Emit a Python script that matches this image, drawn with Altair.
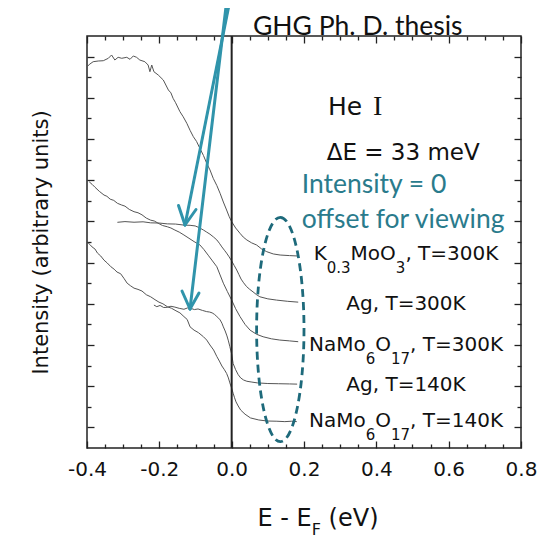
import altair as alt
import pandas as pd

# ---------------- data ----------------
k03_x = [-0.400, -0.392, -0.383, -0.369, -0.355, -0.341, -0.332, -0.323, -0.314, -0.304,
         -0.290, -0.281, -0.272, -0.263, -0.254, -0.240, -0.231, -0.226, -0.221, -0.215,
         -0.203, -0.189, -0.175, -0.168, -0.162, -0.155, -0.143, -0.134, -0.124, -0.115,
         -0.106, -0.097, -0.088, -0.078, -0.069, -0.060, -0.051, -0.041, -0.032, -0.023,
         -0.014, -0.007, 0.000, 0.011, 0.023, 0.032, 0.042, 0.055, 0.069, 0.083, 0.097,
         0.115, 0.134, 0.160, 0.184]
k03_y = [8.755, 8.820, 8.876, 8.893, 8.900, 8.959, 9.039, 8.917, 8.983, 8.959,
         8.983, 8.934, 9.015, 8.983, 8.917, 8.876, 8.796, 8.633, 8.796, 8.633,
         8.553, 8.432, 8.189, 8.120, 7.988, 7.880, 7.663, 7.540, 7.381, 7.210,
         7.056, 6.940, 6.774, 6.600, 6.410, 6.250, 6.046, 5.870, 5.682, 5.470,
         5.277, 5.120, 4.993, 4.840, 4.711, 4.620, 4.549, 4.480, 4.427, 4.330, 4.265,
         4.210, 4.184, 4.170, 4.160]

ag300_x = [-0.316, -0.295, -0.270, -0.245, -0.224, -0.200, -0.178, -0.155, -0.132, -0.115,
           -0.101, -0.090, -0.078, -0.069, -0.060, -0.050, -0.041, -0.034, -0.027, -0.020,
           -0.014, -0.007, 0.000, 0.007, 0.014, 0.020, 0.026, 0.033, 0.041, 0.050, 0.059,
           0.069, 0.078, 0.100, 0.124, 0.155, 0.184]
ag300_y = [4.978, 4.995, 4.980, 4.990, 4.965, 4.960, 4.940, 4.935, 4.910, 4.905,
           4.890, 4.850, 4.790, 4.740, 4.690, 4.620, 4.550, 4.470, 4.380, 4.300,
           4.230, 4.140, 4.040, 3.930, 3.820, 3.710, 3.600, 3.510, 3.420, 3.350, 3.290,
           3.220, 3.170, 3.120, 3.090, 3.060, 3.040]

na300_x = [-0.394, -0.386, -0.378, -0.366, -0.353, -0.345, -0.336, -0.326, -0.316, -0.305,
           -0.295, -0.283, -0.270, -0.259, -0.248, -0.236, -0.224, -0.214, -0.204, -0.191,
           -0.178, -0.168, -0.157, -0.145, -0.132, -0.118, -0.104, -0.096, -0.088, -0.077,
           -0.065, -0.053, -0.041, -0.032, -0.023, -0.012, 0.000, 0.011, 0.023, 0.037,
           0.051, 0.069, 0.087, 0.110, 0.133, 0.160, 0.184]
na300_y = [5.963, 5.900, 5.830, 5.730, 5.640, 5.610, 5.540, 5.510, 5.440, 5.400,
           5.370, 5.290, 5.235, 5.210, 5.160, 5.080, 5.030, 5.010, 4.960, 4.900,
           4.870, 4.840, 4.790, 4.740, 4.670, 4.590, 4.510, 4.470, 4.430, 4.320,
           4.180, 4.040, 3.900, 3.700, 3.500, 3.300, 3.090, 2.880, 2.690, 2.500,
           2.360, 2.260, 2.200, 2.150, 2.120, 2.100, 2.080]

ag140_x = [-0.215, -0.207, -0.198, -0.188, -0.178, -0.168, -0.157, -0.145, -0.132, -0.122,
           -0.113, -0.103, -0.093, -0.081, -0.069, -0.061, -0.054, -0.047, -0.041, -0.036,
           -0.032, -0.027, -0.023, -0.018, -0.013, -0.009, -0.005, 0.000, 0.004, 0.011,
           0.018, 0.025, 0.033, 0.042, 0.056, 0.071, 0.100, 0.130, 0.160, 0.181]
ag140_y = [2.970, 2.930, 2.960, 2.910, 2.915, 2.940, 2.920, 2.890, 2.867, 2.900,
           2.890, 2.860, 2.875, 2.840, 2.810, 2.800, 2.780, 2.740, 2.690, 2.650,
           2.610, 2.530, 2.440, 2.340, 2.220, 2.100, 1.960, 1.780, 1.550, 1.400,
           1.280, 1.200, 1.150, 1.120, 1.100, 1.080, 1.065, 1.060, 1.055, 1.050]

na140_x = [-0.397, -0.391, -0.386, -0.378, -0.371, -0.362, -0.353, -0.344, -0.334, -0.325,
           -0.317, -0.307, -0.298, -0.289, -0.280, -0.270, -0.259, -0.248, -0.236, -0.224,
           -0.212, -0.201, -0.190, -0.178, -0.166, -0.154, -0.143, -0.132, -0.123, -0.115,
           -0.104, -0.092, -0.078, -0.069, -0.060, -0.050, -0.041, -0.034, -0.027, -0.020,
           -0.014, -0.009, -0.005, 0.000, 0.004, 0.008, 0.012, 0.018, 0.025, 0.037,
           0.052, 0.075, 0.098, 0.125, 0.147, 0.165, 0.180]
na140_y = [4.480, 4.430, 4.380, 4.330, 4.230, 4.160, 4.060, 3.990, 3.900, 3.840,
           3.770, 3.730, 3.620, 3.500, 3.440, 3.380, 3.350, 3.310, 3.220, 3.170,
           3.100, 3.040, 3.000, 2.930, 2.890, 2.830, 2.780, 2.690, 2.620, 2.440,
           2.360, 2.300, 2.200, 2.120, 2.000, 1.880, 1.720, 1.610, 1.490, 1.400,
           1.310, 1.200, 1.080, 0.950, 0.830, 0.720, 0.620, 0.520, 0.420, 0.320,
           0.230, 0.180, 0.155, 0.150, 0.140, 0.150, 0.140]

x_major = [-0.4, -0.2, 0.0, 0.2, 0.4, 0.6, 0.8]
x_minor = [-0.35, -0.3, -0.25, -0.15, -0.1, -0.05, 0.05, 0.1, 0.15, 0.25, 0.3, 0.35,
           0.45, 0.5, 0.55, 0.65, 0.7, 0.75]
y_major = [0, 1, 2, 3, 4, 5, 6, 7, 8, 9]
y_minor = [0.5, 1.5, 2.5, 3.5, 4.5, 5.5, 6.5, 7.5, 8.5]

series = [
    ("K0.3MoO3 300K", k03_x, k03_y),
    ("Ag 300K", ag300_x, ag300_y),
    ("NaMo6O17 300K", na300_x, na300_y),
    ("Ag 140K", ag140_x, ag140_y),
    ("NaMo6O17 140K", na140_x, na140_y),
]
rows = []
for name, xs_, ys_ in series:
    for i, (a_, b_) in enumerate(zip(xs_, ys_)):
        rows.append({"series": name, "E": a_, "I": b_, "o": i})
df = pd.DataFrame(rows)

# ---------------- layout helpers ----------------
W, H = 434, 412
X0, X1 = -0.4, 0.8
Y0, Y1 = -0.5, 9.5
LEFT, TOP = 87, 36


def px2x(px):
    return X0 + (px - LEFT) / W * (X1 - X0)


def py2y(py):
    return Y1 - (py - TOP) / H * (Y1 - Y0)


DJV = {' ': 0.318, ',': 0.318, '.': 0.318, '=': 0.838, '-': 0.361, '(': 0.390, ')': 0.390,
       'A': 0.684, 'E': 0.632, 'F': 0.575, 'H': 0.752, 'K': 0.656, 'M': 0.863, 'N': 0.748,
       'O': 0.787, 'T': 0.611, 'V': 0.684, 'a': 0.613, 'e': 0.615, 'g': 0.635, 'm': 0.974,
       'o': 0.612, '\u0394': 0.684}
for d in '0123456789':
    DJV[d] = 0.636


def tw(s, fs):
    return sum(DJV.get(c, 0.6) for c in s) * fs


def seg_rows(parts, center_px, base_py, fs, sfs, drop):
    total = sum(tw(t, sfs if s else fs) for t, s in parts)
    cur = center_px - total / 2
    out = []
    for t, s in parts:
        f = sfs if s else fs
        lead = len(t) - len(t.lstrip(' '))
        out.append({"x": px2x(cur + tw(' ' * lead, f)),
                    "y": py2y(base_py + (drop if s else 0)),
                    "t": t.strip(' '), "fs": f})
        cur += tw(t, f)
    return out


dj_rows = []
dj_rows += seg_rows([("K", 0), ("0.3", 1), ("MoO", 0), ("3", 1), (", T=300K", 0)], 406, 260, 20, 15, 13)
dj_rows += seg_rows([("Ag, T=300K", 0)], 406, 310, 20, 15, 13)
dj_rows += seg_rows([("NaMo", 0), ("6", 1), ("O", 0), ("17", 1), (", T=300K", 0)], 406, 351, 20, 15, 13)
dj_rows += seg_rows([("Ag, T=140K", 0)], 406, 390.7, 20, 15, 13)
dj_rows += seg_rows([("NaMo", 0), ("6", 1), ("O", 0), ("17", 1), (", T=140K", 0)], 406, 426.7, 20, 15, 13)
dj_rows += seg_rows([("E - E", 0), ("F", 1), (" (eV)", 0)], 318, 526, 24, 16, 9)
dj_rows.append({"x": px2x(328), "y": py2y(115.3), "t": "He", "fs": 25})
dj_rows.append({"x": px2x(326.7), "y": py2y(160), "t": "\u0394E = 33 meV", "fs": 23})
dj_df = pd.DataFrame(dj_rows)

TEAL_TXT = "#2a7b8c"
TEAL_ARR = "#3094ab"
TEAL_ELL = "#1e6a7b"

lato_df = pd.DataFrame([
    {"x": px2x(253), "y": py2y(34.5), "t": "GHG Ph. D. thesis", "fs": 26.5, "c": "#111111"},
    {"x": px2x(301.7), "y": py2y(193.3), "t": "Intensity = 0", "fs": 26.5, "c": TEAL_TXT},
    {"x": px2x(301.7), "y": py2y(228.3), "t": "offset for viewing", "fs": 26.5, "c": TEAL_TXT},
])
serif_df = pd.DataFrame([{"x": px2x(373), "y": py2y(115.3), "t": "I"}])

arrows_df = pd.DataFrame([
    {"x": px2x(230.0), "y": py2y(0), "x2": px2x(185), "y2": py2y(225)},
    {"x": px2x(226.8), "y": py2y(0), "x2": px2x(190), "y2": py2y(309)},
    {"x": px2x(178.5), "y": py2y(205.5), "x2": px2x(185), "y2": py2y(225)},
    {"x": px2x(196.0), "y": py2y(209.5), "x2": px2x(185), "y2": py2y(225)},
    {"x": px2x(182.0), "y": py2y(291), "x2": px2x(190), "y2": py2y(309)},
    {"x": px2x(199.0), "y": py2y(293), "x2": px2x(190), "y2": py2y(309)},
])

# ellipse as a custom symbol path (unit coords, scaled by sqrt(size)/2)
a = 23.7 / 112.2
k = 0.5523
ell_path = (f"M0,-1 C{k*a:.4f},-1 {a:.4f},{-k:.4f} {a:.4f},0 "
            f"C{a:.4f},{k:.4f} {k*a:.4f},1 0,1 "
            f"C{-k*a:.4f},1 {-a:.4f},{k:.4f} {-a:.4f},0 "
            f"C{-a:.4f},{-k:.4f} {-k*a:.4f},-1 0,-1 Z")
ell_df = pd.DataFrame([{"x": px2x(280.3), "y": py2y(329.5)}])
ell_size = (2 * 112.2) ** 2

zero_df = pd.DataFrame([{"z": 0.0}])

# ---------------- scales and axes ----------------
xs = alt.Scale(domain=[X0, X1], nice=False, zero=False)
ys = alt.Scale(domain=[Y0, Y1], nice=False, zero=False)


def tick_axis(orient, values, size, offset):
    return alt.Axis(orient=orient, values=values, tickSize=size, offset=offset,
                    labels=False, domain=False, grid=False, title=None, ticks=True,
                    tickColor="#222222", tickWidth=1.3)


ax_x_lab = alt.Axis(orient="bottom", values=x_major, ticks=False, tickSize=0, domain=False,
                    grid=False, title=None,
                    labelExpr="datum.value < 0 ? '-' + format(-datum.value, '.1f') : format(datum.value, '.1f')",
                    labelFont="DejaVu Sans", labelFontSize=20, labelColor="#111111",
                    labelPadding=11, labelFlush=False, labelOverlap=False)
ax_y_tit = alt.Axis(orient="left", ticks=False, tickSize=0, labels=False, domain=False,
                    grid=False, title="Intensity (arbitrary units)", titleFont="DejaVu Sans",
                    titleFontSize=21, titleFontWeight="normal", titleColor="#111111",
                    titlePadding=36)

lines = alt.Chart(df).mark_line(color="#555555", strokeWidth=1).encode(
    x=alt.X("E:Q", scale=xs, axis=ax_x_lab),
    y=alt.Y("I:Q", scale=ys, axis=ax_y_tit),
    detail="series:N",
    order="o:Q",
)

zero = alt.Chart(zero_df).mark_rule(color="#222222", strokeWidth=2).encode(
    x=alt.X("z:Q", scale=xs, axis=None),
)

arrows = alt.Chart(arrows_df).mark_rule(color=TEAL_ARR, strokeWidth=3, strokeCap="round").encode(
    x=alt.X("x:Q", scale=xs, axis=tick_axis("top", x_major, 7, -H)),
    y=alt.Y("y:Q", scale=ys, axis=tick_axis("right", y_major, 7, -W)),
    x2="x2:Q",
    y2="y2:Q",
)

ellipse = alt.Chart(ell_df).mark_point(
    shape=ell_path, size=ell_size, filled=False, color=TEAL_ELL, strokeWidth=2.8,
    strokeDash=[8, 5], opacity=1,
).encode(
    x=alt.X("x:Q", scale=xs, axis=tick_axis("top", x_minor, 4, -H)),
    y=alt.Y("y:Q", scale=ys, axis=tick_axis("right", y_minor, 4, -W)),
)

dj_text = alt.Chart(dj_df).mark_text(font="DejaVu Sans", align="left", baseline="alphabetic",
                                     color="#111111").encode(
    x=alt.X("x:Q", scale=xs, axis=tick_axis("bottom", x_major, 7, -H)),
    y=alt.Y("y:Q", scale=ys, axis=tick_axis("left", y_major, 7, -W)),
    text="t:N",
    size=alt.Size("fs:Q", scale=None, legend=None),
)

lato_text = alt.Chart(lato_df).mark_text(font="Lato", align="left", baseline="alphabetic").encode(
    x=alt.X("x:Q", scale=xs, axis=tick_axis("bottom", x_minor, 4, -H)),
    y=alt.Y("y:Q", scale=ys, axis=tick_axis("left", y_minor, 4, -W)),
    text="t:N",
    size=alt.Size("fs:Q", scale=None, legend=None),
    color=alt.Color("c:N", scale=None, legend=None),
)

serif_text = alt.Chart(serif_df).mark_text(font="Liberation Serif", align="left",
                                           baseline="alphabetic", fontSize=28,
                                           color="#111111").encode(
    x=alt.X("x:Q", scale=xs, axis=None),
    y=alt.Y("y:Q", scale=ys, axis=None),
    text="t:N",
)

chart = alt.layer(
    lines, zero, arrows, ellipse, dj_text, lato_text, serif_text
).resolve_axis(
    x="independent", y="independent"
).properties(
    width=W, height=H,
    autosize=alt.AutoSizeParams(type="none"),
    padding={"left": 79, "top": 28, "right": 25, "bottom": 92},
    background="white",
).configure_view(
    stroke="#222222", strokeWidth=1.5
)

chart.save("out.html", embed_options={"renderer": "svg", "actions": False})
